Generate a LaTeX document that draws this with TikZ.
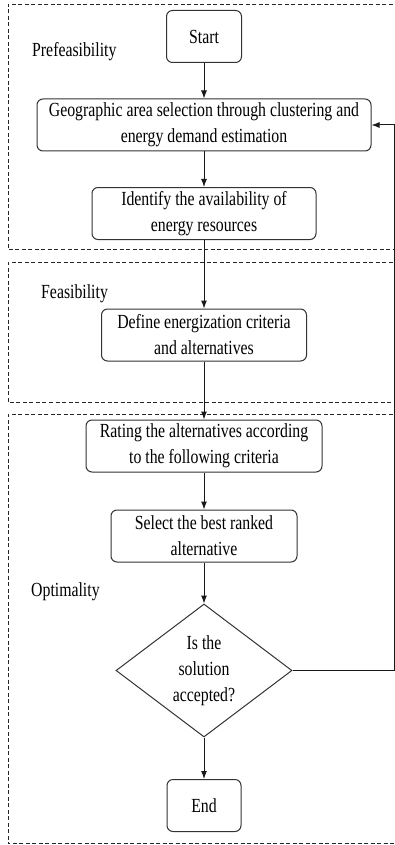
\documentclass[tikz,border=0pt]{standalone}
\usepackage{fontspec}
\setmainfont{Liberation Serif}[FakeStretch=0.79]
\usetikzlibrary{arrows.meta,shapes.geometric}

\tikzset{
  block/.style={draw=black!80, line width=1pt, rounded corners=6pt, align=center,
    minimum height=52pt, inner sep=2pt, font=\fontsize{20}{26}\selectfont},
  decision/.style={draw=black!80, line width=1pt, diamond, align=center,
    minimum width=176pt, minimum height=133pt, inner sep=0pt,
    font=\fontsize{20}{26}\selectfont},
  phase/.style={draw=black!85, line width=0.8pt, dash pattern=on 4pt off 2.5pt},
  phasename/.style={anchor=west, inner sep=0pt, font=\fontsize{20}{26}\selectfont},
  flow/.style={-{Latex[length=8pt,width=6pt]}, line width=1pt, draw=black!90}
}

\begin{document}
\begin{tikzpicture}[x=1pt,y=-1pt]
\useasboundingbox (0,0) rectangle (394,845);

%Phases
\draw[phase] (399,4) -- (8,4) -- (8,249) -- (399,249);
\draw[phase] (399,262) -- (8,262) -- (8,402) -- (399,402);
\draw[phase] (399,414) -- (8,414) -- (8,843.5) -- (399,843.5);
\node[phasename] (prefeas) at (32,52) {Prefeasibility};
\node[phasename] (feas) at (41,294) {Feasibility};
\node[phasename] (optim) at (31,592) {Optimality};

%Steps
\node[block, minimum width=75pt] (start) at (204,36.5) {Start};
\node[block, minimum width=334pt] (geo) at (204,125) {Geographic area selection through clustering and\\energy demand estimation};
\node[block, minimum width=224pt] (avail) at (204,213.5) {Identify the availability of\\energy resources};
\node[block, minimum width=205pt] (define) at (204,335) {Define energization criteria\\and alternatives};
\node[block, minimum width=236pt] (rating) at (204,446) {Rating the alternatives according\\to the following criteria};
\node[block, minimum width=186pt] (select) at (204,536) {Select the best ranked\\alternative};
\node[decision] (check) at (204,670.5) {Is the\\solution\\accepted?};
\node[block, minimum width=74pt] (stop) at (204,805.5) {End};

\draw[flow] (start) -- (geo);
\draw[flow] (geo) -- (avail);
\draw[flow] (avail) -- (define);
\draw[flow] (define) -- (rating);
\draw[flow] (rating) -- (select);
\draw[flow] (select) -- (check);
\draw[flow] (check) -- (stop);
\draw[flow] (check.east) -- ++(102,0) |- (geo.east);

\end{tikzpicture}
\end{document}
